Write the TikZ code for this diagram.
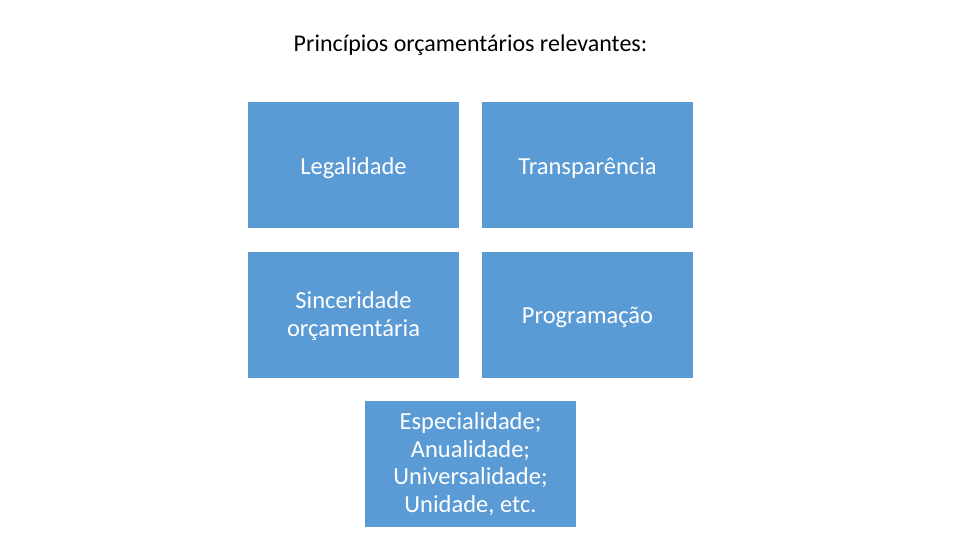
\documentclass[tikz,border=0pt]{standalone}
\usepackage{fontspec}
\setmainfont{Carlito}
\definecolor{boxblue}{HTML}{5B9BD5}
\begin{document}
\begin{tikzpicture}[x=1pt,y=-1pt,
  pbox/.style={fill=boxblue,draw=none,minimum width=211pt,minimum height=126pt,inner sep=0pt},
  ptext/.style={text=white,align=center,inner sep=0pt,font=\fontsize{24.5}{27.7}\selectfont},
  ttl/.style={font=\fontsize{24}{28}\selectfont,inner sep=0pt}]
\useasboundingbox[fill=white] (0,0) rectangle (960,540);
\node[ttl] (title) at (470.5,45) {Princípios orçamentários relevantes:};
\node[pbox] (legal) at (353.5,165) {};
\node[pbox] (transp) at (587.5,165) {};
\node[pbox] (sinc) at (353.5,314.5) {};
\node[pbox] (prog) at (587.5,314.5) {};
\node[pbox] (espec) at (470.5,464) {};
\node[ptext] (legalt) at ([yshift=-3pt]legal.center) {Legalidade};
\node[ptext] (transpt) at ([yshift=-3pt]transp.center) {Transparência};
\node[ptext] (sinct) at ([yshift=-1.5pt]sinc.center) {Sinceridade\\orçamentária};
\node[ptext] (progt) at ([yshift=-2.5pt]prog.center) {Programação};
\node[ptext] (espect) at ([yshift=0pt]espec.center) {Especialidade;\\Anualidade;\\Universalidade;\\Unidade, etc.};
\end{tikzpicture}
\end{document}
